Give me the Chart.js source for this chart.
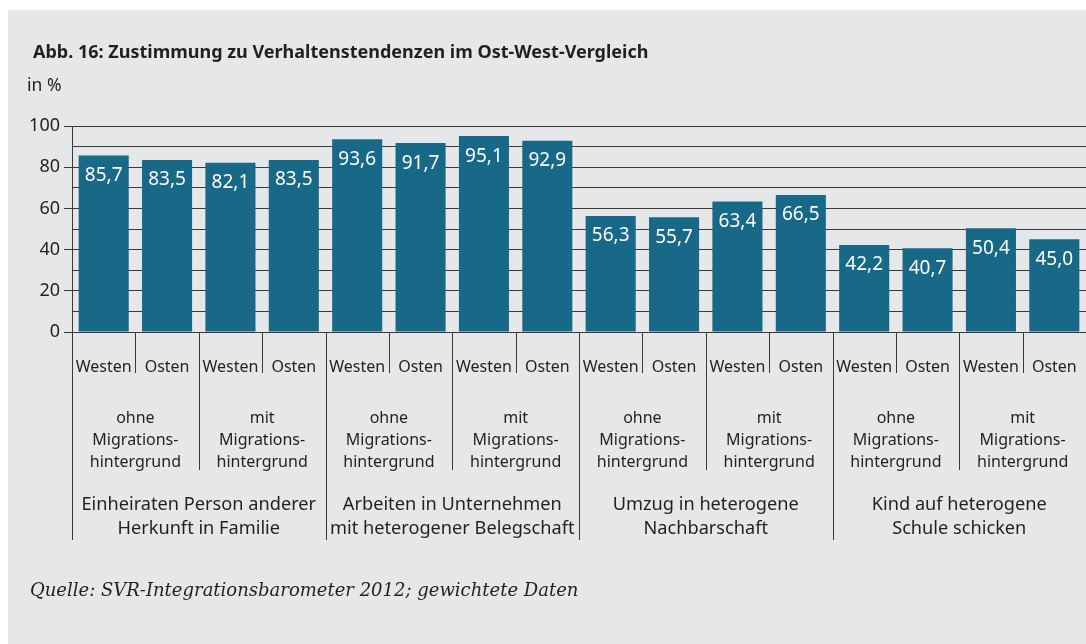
<!DOCTYPE html>
<html lang="de">
<head>
<meta charset="utf-8">
<title>Abb. 16</title>
<script src="https://cdn.jsdelivr.net/npm/chart.js@4"></script>
<style>
  html, body { margin: 0; padding: 0; background: #fff; }
  body { width: 1086px; height: 644px; position: relative; overflow: hidden; font-family: "Noto Sans", sans-serif; color: #231f20; }
  #box { position: absolute; left: 8px; top: 10px; right: 0; bottom: 0; background: #e6e7e9; }
  #chart { position: absolute; left: 0; top: 0; }
  .txt { position: absolute; white-space: nowrap; line-height: 1; }
  #title { left: 33px; top: 42px; font-size: 18px; font-weight: bold; }
  #unit { left: 27px; top: 76px; font-size: 17.5px; }
  #source { left: 30px; top: 581px; font-size: 18px; font-style: italic; font-family: "DejaVu Serif", serif; }
</style>
</head>
<body>
<div id="box"></div>
<canvas id="chart" width="1086" height="644"></canvas>
<div class="txt" id="title">Abb. 16: Zustimmung zu Verhaltenstendenzen im Ost-West-Vergleich</div>
<div class="txt" id="unit">in %</div>
<div class="txt" id="source">Quelle: SVR-Integrationsbarometer 2012; gewichtete Daten</div>
<script>
// values per bar, left to right
const values = [85.7, 83.5, 82.1, 83.5, 93.6, 91.7, 95.1, 92.9, 56.3, 55.7, 63.4, 66.5, 42.2, 40.7, 50.4, 45.0];
const regionLabels = ['Westen', 'Osten'];
const migrationLabels = [
  ['ohne', 'Migrations-', 'hintergrund'],
  ['mit', 'Migrations-', 'hintergrund']
];
const groupLabels = [
  ['Einheiraten Person anderer', 'Herkunft in Familie'],
  ['Arbeiten in Unternehmen', 'mit heterogener Belegschaft'],
  ['Umzug in heterogene', 'Nachbarschaft'],
  ['Kind auf heterogene', 'Schule schicken']
];
const yMin = 0, yMax = 100, yStep = 10, yLabelStep = 20;

const barColor = '#186987';
const inkColor = '#231f20';
const lineColor = '#3a3a3a';

// one label per bar
const labels = values.map((v, i) => regionLabels[i % 2]);

const fmt = v => v.toFixed(1).replace('.', ',');

// value labels inside the bars + the three-level category axis
const axisPlugin = {
  id: 'axisPlugin',
  afterDatasetsDraw(chart) {
    const ctx = chart.ctx;
    const meta = chart.getDatasetMeta(0);
    ctx.save();
    ctx.fillStyle = '#ffffff';
    ctx.font = '19px "Noto Sans"';
    ctx.textAlign = 'center';
    ctx.textBaseline = 'middle';
    meta.data.forEach((bar, i) => {
      ctx.fillText(fmt(values[i]), bar.x, bar.y + 20);
    });
    ctx.restore();
  },
  afterDraw(chart) {
    const ctx = chart.ctx;
    const xs = chart.scales.x;
    const area = chart.chartArea;
    const n = values.length;
    const w = (area.right - area.left) / n;
    const base = area.bottom;

    ctx.save();
    ctx.strokeStyle = lineColor;
    ctx.lineWidth = 1;
    // separators
    for (let i = 0; i < n; i++) {
      const x = Math.round(area.left + i * w) + 0.5;
      let end = base + 41;
      if (i % 4 === 0) end = base + 208;
      else if (i % 2 === 0) end = base + 138;
      ctx.beginPath();
      ctx.moveTo(x, i === 0 ? area.top : base);
      ctx.lineTo(x, end);
      ctx.stroke();
    }

    ctx.fillStyle = inkColor;
    ctx.textAlign = 'center';
    ctx.textBaseline = 'middle';

    // Westen / Osten
    ctx.font = '16px "Noto Sans"';
    for (let i = 0; i < n; i++) {
      ctx.fillText(labels[i], xs.getPixelForValue(i), base + 35);
    }
    // ohne / mit Migrationshintergrund
    for (let g = 0; g < n / 2; g++) {
      const cx = area.left + (g * 2 + 1) * w;
      migrationLabels[g % 2].forEach((line, k) => {
        ctx.fillText(line, cx, base + 86 + k * 22);
      });
    }
    // main groups
    ctx.font = '18.2px "Noto Sans"';
    groupLabels.forEach((lines, g) => {
      const cx = area.left + (g * 4 + 2) * w;
      lines.forEach((line, k) => {
        ctx.fillText(line, cx, base + 173 + k * 24);
      });
    });
    ctx.restore();
  }
};

new Chart(document.getElementById('chart'), {
  type: 'bar',
  data: {
    labels,
    datasets: [{
      data: values,
      backgroundColor: barColor,
      borderWidth: 0,
      categoryPercentage: 1,
      barPercentage: 0.79
    }]
  },
  options: {
    responsive: false,
    devicePixelRatio: 1,
    animation: false,
    layout: { padding: { top: 126, left: 0, right: 0, bottom: 0 } },
    plugins: { legend: { display: false }, tooltip: { enabled: false } },
    scales: {
      x: {
        ticks: { display: false },
        grid: { display: false },
        border: { display: false },
        afterFit(scale) { scale.height = 312; }
      },
      y: {
        min: yMin,
        max: yMax,
        ticks: {
          stepSize: yStep,
          autoSkip: false,
          padding: 4,
          color: inkColor,
          font: { family: 'Noto Sans', size: 18 },
          callback: v => (v % yLabelStep === 0 ? v : '')
        },
        grid: {
          color: lineColor,
          lineWidth: 1,
          tickLength: 8,
          tickColor: c => (c.tick && c.tick.value % yLabelStep === 0 ? lineColor : 'rgba(0,0,0,0)')
        },
        border: { display: false },
        afterFit(scale) { scale.width = 72; }
      }
    }
  },
  plugins: [axisPlugin]
});
</script>
</body>
</html>
